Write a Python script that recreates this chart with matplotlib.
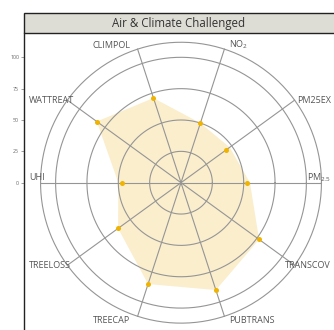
import numpy as np
import matplotlib.pyplot as plt
from matplotlib.patches import Rectangle

plt.rcParams['font.family'] = ['Open Sans', 'DejaVu Sans']

# 雷达图数据 (0-100)
categories = ['PM$_\\mathregular{2.5}$', 'PM25EX', 'NO$_\\mathregular{2}$', 'CLIMPOL', 'WATTREAT',
              'UHI', 'TREELOSS', 'TREECAP', 'PUBTRANS', 'TRANSCOV']
values = [53, 44, 50, 71, 83, 47, 62, 85, 90, 77]     # 黄点
area = [55, 48, 50, 71, 83, 50, 62, 85, 90, 77]       # 填充区域
rings = [25, 50, 75, 100]
outer = 112
yticks = [0, 25, 50, 75, 100]
title = 'Air & Climate Challenged'

W, H = 334, 330
k = 1.254                 # 每单位像素
cx, cy = 181, 182.7       # 中心像素位置
ax_left, ax_top = 24, 33.3

fig = plt.figure(figsize=(W / 100, H / 100), dpi=100)
ax = fig.add_axes([ax_left / W, 0, 1 - ax_left / W, 1 - ax_top / H])
xmin, xmax = (ax_left - cx) / k, (W - cx) / k
ymin, ymax = -(H - cy) / k, (cy - ax_top) / k
ax.set_xlim(xmin, xmax)
ax.set_ylim(ymin, ymax)

n = len(categories)
ang = np.arange(n) * 2 * np.pi / n
cs, sn = np.cos(ang), np.sin(ang)

# 填充
ax.fill(np.array(area) * cs, np.array(area) * sn, color='#fbeecd', lw=0, zorder=1)

# 圆环与辐射线
t = np.linspace(0, 2 * np.pi, 400)
for r in rings + [outer]:
    ax.plot(r * np.cos(t), r * np.sin(t), color='#959595', lw=0.8, zorder=2)
for c, s in zip(cs, sn):
    ax.plot([0, outer * c], [0, outer * s], color='#959595', lw=0.8, zorder=2)

ax.scatter(np.array(values) * cs, np.array(values) * sn, s=13, color='#efb300', zorder=3,
           linewidths=0)

# 标签
for lab, c, s in zip(categories, cs, sn):
    tx, ty = outer * c, outer * s
    if c > 0.5:
        x, ha = xmax - 3 / k, 'right'
    elif c < -0.5:
        x, ha = xmin + 5 / k, 'left'
    elif c > 0:
        x, ha = tx + 5 / k, 'left'
    else:
        x, ha = tx - 7 / k, 'right'
    if abs(s) < 0.1:
        y = ty + 5 / k
    elif abs(s) > 0.9:
        y = ty + np.sign(s) * 4 / k
    else:
        y = ty
    ax.text(x, y, lab, ha=ha, va='center', fontsize=6.5, color='#555555', zorder=4)

ax.set_xticks([])
ax.set_yticks(yticks)
ax.tick_params(axis='y', length=2, width=0.5, color='#777777', labelsize=3.8,
               labelcolor='#666666', pad=1.5)
for sp in ['top', 'right', 'bottom']:
    ax.spines[sp].set_visible(False)
ax.spines['left'].set_color('#222222')
ax.spines['left'].set_linewidth(1)

# 标题框
fig.patches.append(Rectangle((ax_left / W, 1 - ax_top / H), 1, 20 / H, transform=fig.transFigure,
                             facecolor='#deddd5', edgecolor='#222222', lw=1, zorder=5))
fig.text((ax_left + W) / 2 / W, 1 - 23.3 / H, title, ha='center', va='center', fontsize=8.3,
         color='#333333', zorder=6)

plt.savefig('out.png', dpi=100)
